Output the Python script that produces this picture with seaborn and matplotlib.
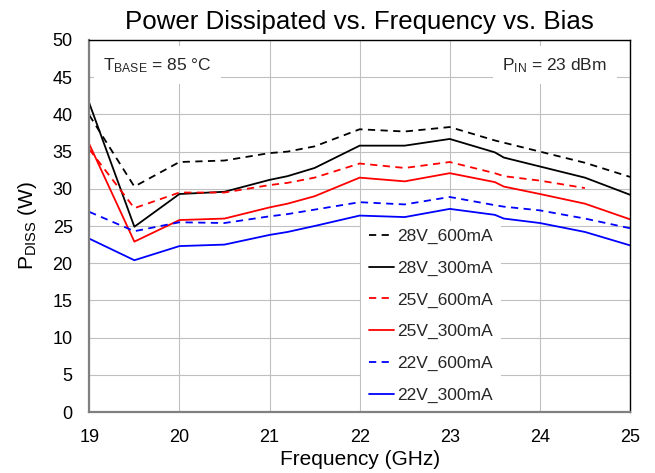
import numpy as np
import pandas as pd
import matplotlib
matplotlib.use("Agg")
import matplotlib.pyplot as plt
import seaborn as sns
from matplotlib.lines import Line2D

# ---- data ----
freq = [19, 19.5, 20, 20.5, 21, 21.2, 21.5, 22, 22.5, 23, 23.5, 23.6, 24, 24.5, 25]
v28_600 = [39.9, 30.3, 33.6, 33.8, 34.8, 35.0, 35.7, 38.0, 37.7, 38.3, 36.5, 36.2, 35.0, 33.5, 31.6]
v28_300 = [41.5, 24.9, 29.3, 29.6, 31.2, 31.7, 32.8, 35.8, 35.8, 36.7, 34.9, 34.2, 33.0, 31.5, 29.2]
v25_600 = [35.3, 27.4, 29.5, 29.5, 30.5, 30.8, 31.5, 33.4, 32.8, 33.6, 32.1, 31.7, 31.1, 30.1, None]
v25_300 = [36.0, 22.9, 25.8, 26.0, 27.5, 28.0, 29.0, 31.5, 31.0, 32.1, 30.9, 30.3, 29.3, 28.0, 25.9]
v22_600 = [26.9, 24.3, 25.5, 25.4, 26.3, 26.6, 27.2, 28.2, 27.9, 28.9, 27.8, 27.6, 27.1, 26.0, 24.7]
v22_300 = [23.3, 20.4, 22.3, 22.5, 23.8, 24.2, 25.0, 26.4, 26.2, 27.3, 26.5, 26.0, 25.4, 24.2, 22.4]

series_names = ["28V_600mA", "28V_300mA", "25V_600mA", "25V_300mA", "22V_600mA", "22V_300mA"]
series_vals = [v28_600, v28_300, v25_600, v25_300, v22_600, v22_300]
colors = ["#000000", "#000000", "#ff0000", "#ff0000", "#0000ff", "#0000ff"]
dashed = [True, False, True, False, True, False]

xticks = [19, 20, 21, 22, 23, 24, 25]
yticks = [0, 5, 10, 15, 20, 25, 30, 35, 40, 45, 50]

rows = []
for name, vals in zip(series_names, series_vals):
    for f, v in zip(freq, vals):
        if v is not None:
            rows.append({"freq": f, "pdiss": v, "series": name})
df = pd.DataFrame(rows)

# ---- style ----
sns.set_theme(style="whitegrid")
plt.rcParams["font.family"] = ["Liberation Sans", "DejaVu Sans"]
plt.rcParams["mathtext.fontset"] = "custom"
plt.rcParams["mathtext.rm"] = "Liberation Sans"
plt.rcParams["mathtext.it"] = "Liberation Sans:italic"
plt.rcParams["mathtext.bf"] = "Liberation Sans:bold"
plt.rcParams["mathtext.default"] = "regular"

fig = plt.figure(figsize=(6.55, 4.73), dpi=100)
ax = fig.add_axes([89.3 / 655, 61 / 473, 540.7 / 655, 372 / 473])
ax.set_facecolor("white")

palette = dict(zip(series_names, colors))
dash_map = {n: ((4, 3) if d else "") for n, d in zip(series_names, dashed)}

sns.lineplot(data=df, x="freq", y="pdiss", hue="series", style="series",
             palette=palette, dashes=dash_map, hue_order=series_names,
             style_order=series_names, linewidth=1.3, legend=False, ax=ax,
             sort=True, estimator=None, zorder=3)

ax.set_xlim(19, 25)
ax.set_ylim(0, 50)
ax.set_xticks(xticks)
ax.set_yticks(yticks)
ax.tick_params(axis="both", length=0, pad=12, labelsize=13, colors="#000000")
ax.grid(True, color="#c0c0c0", linewidth=0.8)
ax.set_axisbelow(True)

for side in ["left", "bottom"]:
    ax.spines[side].set_color("#808080")
    ax.spines[side].set_linewidth(1.6)
for side in ["top", "right"]:
    ax.spines[side].set_color("#000000")
    ax.spines[side].set_linewidth(1.0)
for s in ax.spines.values():
    s.set_visible(True)
    s.set_zorder(5)

ax.set_xlabel("Frequency (GHz)", fontsize=15, labelpad=3, color="#000000")
ax.set_ylabel("P$_{DISS}$ (W)", fontsize=15, labelpad=10, color="#000000")
ax.set_title("Power Dissipated vs. Frequency vs. Bias", fontsize=18.6, pad=8, color="#000000")

# legend
handles = [Line2D([], [], color=c, linewidth=1.3, linestyle=(0, (4, 3)) if d else "-")
           for c, d in zip(colors, dashed)]
leg = ax.legend(handles, series_names, loc="lower left", bbox_to_anchor=(0.502, 0.003),
                fontsize=12.5, frameon=True, fancybox=False, framealpha=1,
                facecolor="white", edgecolor="none", handlelength=1.45,
                handletextpad=0.2, labelspacing=0.95, borderpad=0.45, borderaxespad=0)
leg.set_zorder(4)

# annotations
ax.text(0.026, 0.932, "T$_{BASE}$ = 85 °C", transform=ax.transAxes, fontsize=12.5,
        va="center", ha="left", zorder=4,
        bbox=dict(boxstyle="square,pad=0.55", facecolor="white", edgecolor="none"))
ax.text(0.958, 0.932, "P$_{IN}$ = 23 dBm", transform=ax.transAxes, fontsize=12.5,
        va="center", ha="right", zorder=4,
        bbox=dict(boxstyle="square,pad=0.55", facecolor="white", edgecolor="none"))

fig.savefig("out.png", dpi=100, facecolor="white")
